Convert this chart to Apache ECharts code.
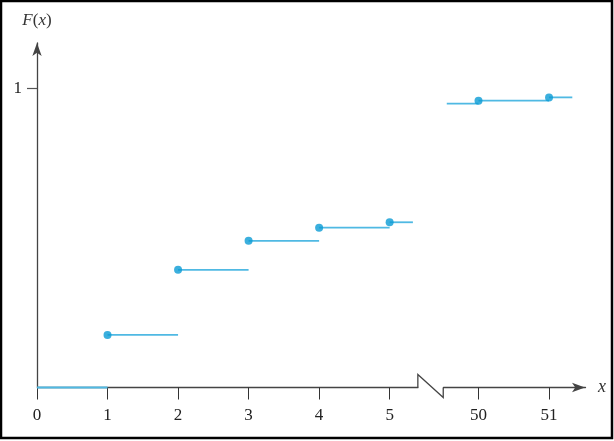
<!DOCTYPE html>
<html>
<head>
<meta charset="utf-8">
<script src="https://cdn.jsdelivr.net/npm/echarts@6/dist/echarts.min.js"></script>
<style>
  html, body { margin: 0; padding: 0; background: #fff; }
  #chart { width: 614px; height: 441px; }
</style>
</head>
<body>
<div id="chart"></div>
<script>
// Step function F(x): each horizontal piece runs from segFrom to segTo at height segF
const segFrom = [0, 1, 2, 3, 4, 5, 49.55, 50, 51];
const segTo   = [1, 2, 3, 4, 5, 5.33, 50, 51, 51.33];
const segF    = [0, 0.176, 0.394, 0.491, 0.535, 0.553, 0.950, 0.960, 0.971];
// a filled dot marks the left end of the pieces that start at a jump
const hasDot  = [false, true, true, true, true, true, false, true, true];

// tick values shown on each axis
const xTicks = [0, 1, 2, 3, 4, 5, 50, 51];
const yTicks = [1];

// the x axis skips the values between 5 and 50
const axisBreak = { start: 5.4, end: 49.5, gap: 0.36 };

const lineColor = '#4fb9e3';
const dotColor = '#0a9bd4';
const axisColor = '#444';
const serif = '"Liberation Serif", "DejaVu Serif", serif';

const segments = segFrom.map((x0, i) => [x0, segTo[i], segF[i]]);
const dots = segFrom.map((x0, i) => [x0, segF[i]]).filter((_, i) => hasDot[i]);

const chart = echarts.init(document.getElementById('chart'));
chart.setOption({
  animation: false,
  backgroundColor: '#fff',
  grid: { left: 37, right: 29, top: 43, bottom: 53.5 },
  xAxis: {
    type: 'value',
    min: 0,
    max: 51.51,
    breaks: [axisBreak],
    breakArea: { show: false },
    name: 'x',
    nameLocation: 'end',
    nameGap: 13,
    nameTextStyle: { fontFamily: serif, fontStyle: 'italic', fontSize: 18, color: '#333', verticalAlign: 'middle', align: 'left' },
    axisLine: {
      show: true,
      symbol: ['none', 'arrow'],
      symbolSize: [7, 13],
      lineStyle: { color: axisColor, width: 1.3 }
    },
    axisTick: { show: true, length: 12, customValues: xTicks, lineStyle: { color: '#333', width: 1 } },
    axisLabel: {
      show: true,
      customValues: xTicks,
      margin: 20,
      fontFamily: serif,
      fontSize: 17,
      color: '#222',
      formatter: v => String(v)
    },
    splitLine: { show: false }
  },
  yAxis: {
    type: 'value',
    min: 0,
    max: 1.153,
    name: '{i|F}({i|x})',
    nameLocation: 'end',
    nameGap: 14,
    nameTextStyle: {
      fontFamily: serif, fontSize: 17, color: '#333',
      rich: { i: { fontFamily: serif, fontSize: 17, fontStyle: 'italic', color: '#333' } }
    },
    axisLine: {
      show: true,
      symbol: ['none', 'arrow'],
      symbolSize: [7, 13],
      lineStyle: { color: axisColor, width: 1.3 }
    },
    axisTick: { show: true, length: 10, customValues: yTicks, lineStyle: { color: '#555', width: 1.2 } },
    axisLabel: {
      show: true,
      customValues: yTicks,
      margin: 15,
      fontFamily: serif,
      fontSize: 17,
      color: '#222'
    },
    splitLine: { show: false }
  },
  graphic: [{
    type: 'rect',
    shape: { x: 1, y: 1, width: 611, height: 437 },
    style: { fill: 'none', stroke: '#000', lineWidth: 2.5 },
    silent: true,
    z: 100
  }],
  series: [
    {
      // zigzag marking the cut in the x axis
      type: 'custom',
      clip: false,
      z: 3,
      data: [[axisBreak.start, axisBreak.end, 0]],
      encode: { x: [0, 1], y: 2 },
      renderItem: (params, api) => {
        const a = api.coord([api.value(0), api.value(2)]);
        const b = api.coord([api.value(1), api.value(2)]);
        return {
          type: 'group',
          children: [
            { type: 'rect', shape: { x: a[0] + 0.6, y: a[1] - 2, width: b[0] - a[0] - 1.2, height: 4 }, style: { fill: '#fff' } },
            {
              type: 'polyline',
              shape: { points: [[a[0], a[1]], [a[0], a[1] - 13], [b[0], a[1] + 10], [b[0], b[1]]] },
              style: { stroke: axisColor, lineWidth: 1.3, fill: 'none' }
            }
          ]
        };
      }
    },
    {
      type: 'custom',
      clip: false,
      z: 4,
      data: segments,
      encode: { x: [0, 1], y: 2 },
      renderItem: (params, api) => {
        const a = api.coord([api.value(0), api.value(2)]);
        const b = api.coord([api.value(1), api.value(2)]);
        return {
          type: 'line',
          shape: { x1: a[0], y1: a[1], x2: b[0], y2: b[1] },
          style: { stroke: lineColor, lineWidth: 1.8 }
        };
      }
    },
    {
      type: 'scatter',
      z: 5,
      data: dots,
      symbol: 'circle',
      symbolSize: 8,
      itemStyle: { color: dotColor }
    }
  ]
});
</script>
</body>
</html>
